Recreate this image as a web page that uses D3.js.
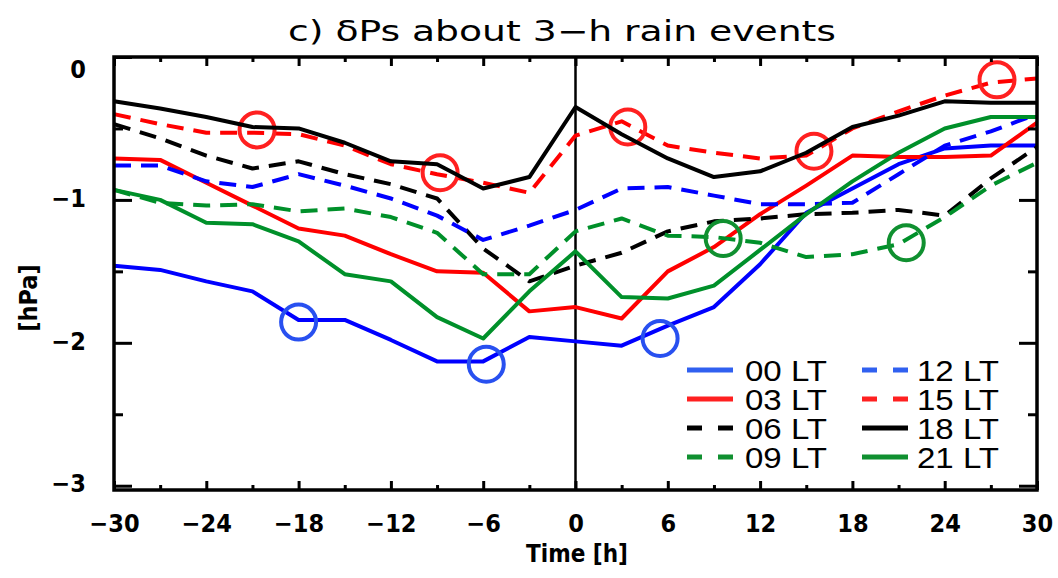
<!DOCTYPE html>
<html><head><meta charset="utf-8">
<script src="https://cdn.jsdelivr.net/npm/d3@7/dist/d3.min.js"></script>
<style>body{margin:0;background:#fff}svg{display:block}</style>
</head><body><svg id="c" width="1058" height="578"></svg>
<script>
// ---- data ----
const hours = [-30,-27,-24,-21,-18,-15,-12,-9,-6,-3,0,3,6,9,12,15,18,21,24,27,30];
const lt00 = [-1.46,-1.49,-1.57,-1.64,-1.84,-1.84,-1.98,-2.13,-2.13,-1.96,-1.99,-2.02,-1.88,-1.75,-1.45,-1.09,-0.92,-0.75,-0.64,-0.62,-0.62];
const lt03 = [-0.71,-0.72,-0.88,-1.04,-1.20,-1.25,-1.38,-1.50,-1.51,-1.78,-1.75,-1.83,-1.50,-1.33,-1.10,-0.90,-0.69,-0.70,-0.70,-0.69,-0.46];
const lt06 = [-0.47,-0.57,-0.69,-0.78,-0.73,-0.82,-0.89,-0.99,-1.34,-1.57,-1.46,-1.37,-1.22,-1.15,-1.13,-1.10,-1.09,-1.07,-1.11,-0.85,-0.63];
const lt09 = [-0.93,-1.02,-1.04,-1.03,-1.08,-1.06,-1.12,-1.23,-1.52,-1.52,-1.22,-1.13,-1.25,-1.26,-1.30,-1.40,-1.38,-1.31,-1.12,-0.90,-0.74];
const lt12 = [-0.76,-0.76,-0.87,-0.91,-0.82,-0.90,-0.99,-1.11,-1.28,-1.18,-1.07,-0.92,-0.91,-0.97,-1.03,-1.03,-1.02,-0.82,-0.62,-0.52,-0.40];
const lt15 = [-0.40,-0.47,-0.53,-0.53,-0.54,-0.62,-0.75,-0.82,-0.88,-0.95,-0.55,-0.45,-0.62,-0.67,-0.71,-0.69,-0.50,-0.38,-0.27,-0.18,-0.15];
const lt18 = [-0.31,-0.36,-0.42,-0.49,-0.50,-0.60,-0.73,-0.75,-0.92,-0.84,-0.35,-0.54,-0.71,-0.84,-0.80,-0.67,-0.49,-0.41,-0.31,-0.32,-0.32];
const lt21 = [-0.93,-1.00,-1.16,-1.17,-1.29,-1.52,-1.57,-1.82,-1.97,-1.64,-1.36,-1.68,-1.69,-1.60,-1.35,-1.10,-0.87,-0.67,-0.50,-0.42,-0.42];

const circles00 = [[-18,-1.855],[-5.8,-2.15],[5.5,-1.97]];
const circles09 = [[9.6,-1.27],[21.5,-1.30]];
const circles15 = [[-20.7,-0.51],[-8.8,-0.81],[3.4,-0.49],[15.5,-0.66],[27.4,-0.16]];

const seriesNames = ["00 LT","03 LT","06 LT","09 LT","12 LT","15 LT","18 LT","21 LT"];
const seriesValues = [lt00,lt03,lt06,lt09,lt12,lt15,lt18,lt21];
const seriesCircles = [circles00,null,null,circles09,null,circles15,null,null];

const xMajorTicks = [-30,-24,-18,-12,-6,0,6,12,18,24,30];
const xMinorTicks = [-27,-21,-15,-9,-3,3,9,15,21,27];
const yMajorTicks = [0,-1,-2,-3];
const yMinorTicks = [-0.5,-1.5,-2.5];
const titleText = "c) \u03b4Ps about 3\u2212h rain events";
const xLabel = "Time [h]";
const yLabel = "[hPa]";

// ---- styles ----
const lineColors = ["#0000ff","#ff0000","#000000","#00902a","#0000ff","#ff0000","#000000","#00902a"];
const legendColors = ["#3060f0","#ff2020","#000000","#109030","#3060f0","#ff2020","#000000","#109030"];
const circleColors = ["#2850f0",null,null,"#109030",null,"#ff2020",null,null];
const dashed = [false,false,true,true,true,true,false,false];

const svg = d3.select("#c");
const x = d3.scaleLinear().domain([-30,30]).range([114,1037]);
const y = d3.scaleLinear().domain([-3.03,0]).range([490,57]);

// title
svg.append("text").attr("x",562).attr("y",41).attr("text-anchor","middle")
  .attr("font-family","DejaVu Sans Condensed, DejaVu Sans").attr("font-size",28)
  .attr("textLength",548).attr("lengthAdjust","spacingAndGlyphs")
  .text(titleText);

// zero line
svg.append("line").attr("x1",x(0)).attr("x2",x(0)).attr("y1",y(0)).attr("y2",y(-3.03))
  .attr("stroke","#000").attr("stroke-width",2.5);

// series
const line = d3.line().x((d,i)=>x(hours[i])).y(d=>y(d));
seriesValues.forEach((vals,k)=>{
  svg.append("path").datum(vals).attr("d",line).attr("fill","none")
    .attr("stroke",lineColors[k]).attr("stroke-width",4)
    .attr("stroke-linejoin","round")
    .attr("stroke-dasharray",dashed[k]?"17,10":null);
  if(seriesCircles[k]){
    svg.selectAll(null).data(seriesCircles[k]).enter().append("circle")
      .attr("cx",d=>x(d[0])).attr("cy",d=>y(d[1])).attr("r",17.5)
      .attr("fill","none").attr("stroke",circleColors[k]).attr("stroke-width",4);
  }
});

// frame
svg.append("rect").attr("x",x(-30)).attr("y",y(0)).attr("width",x(30)-x(-30)).attr("height",y(-3.03)-y(0))
  .attr("fill","none").attr("stroke","#000").attr("stroke-width",3.5);

const tickFont = "DejaVu Sans Condensed, DejaVu Sans";
function fmt(v){ return v<0 ? "\u2212"+Math.abs(v) : String(v); }

// x axes
const xb = svg.append("g").attr("transform",`translate(0,${y(-3.03)})`)
  .call(d3.axisBottom(x).tickValues(xMajorTicks).tickSize(-9).tickPadding(24).tickFormat(fmt));
svg.append("g").attr("transform",`translate(0,${y(-3.03)})`)
  .call(d3.axisBottom(x).tickValues(xMinorTicks).tickSize(-5).tickFormat(""));
svg.append("g").attr("transform",`translate(0,${y(0)})`)
  .call(d3.axisTop(x).tickValues(xMajorTicks).tickSize(-9).tickFormat(""));
svg.append("g").attr("transform",`translate(0,${y(0)})`)
  .call(d3.axisTop(x).tickValues(xMinorTicks).tickSize(-5).tickFormat(""));
// y axes
const yl = svg.append("g").attr("transform",`translate(${x(-30)},0)`)
  .call(d3.axisLeft(y).tickValues(yMajorTicks).tickSize(-18).tickPadding(28).tickFormat(fmt));
svg.append("g").attr("transform",`translate(${x(-30)},0)`)
  .call(d3.axisLeft(y).tickValues(yMinorTicks).tickSize(-9).tickFormat(""));
svg.append("g").attr("transform",`translate(${x(30)},0)`)
  .call(d3.axisRight(y).tickValues(yMajorTicks).tickSize(-18).tickFormat(""));
svg.append("g").attr("transform",`translate(${x(30)},0)`)
  .call(d3.axisRight(y).tickValues(yMinorTicks).tickSize(-9).tickFormat(""));

svg.selectAll(".domain").remove();
svg.selectAll(".tick line").attr("stroke","#000").attr("stroke-width",3);
svg.selectAll(".tick text").attr("font-family",tickFont).attr("font-weight","bold")
  .attr("font-size",25).attr("fill","#000");
xb.selectAll(".tick text").attr("dy","0.71em");
yl.selectAll(".tick text").attr("dy", d=> d===0 ? "0.8em" : "0.25em");

// axis titles
svg.append("text").attr("x",577).attr("y",562).attr("text-anchor","middle")
  .attr("font-family",tickFont).attr("font-weight","bold").attr("font-size",24)
  .text(xLabel);
svg.append("text").attr("transform","translate(37,298) rotate(-90)").attr("text-anchor","middle")
  .attr("font-family",tickFont).attr("font-weight","bold").attr("font-size",25)
  .text(yLabel);

// legend
const legCols = [[687,745],[862,917]];
const legRows = [370,399,428,457];
seriesNames.forEach((name,k)=>{
  const col = legCols[Math.floor(k/4)], row = legRows[k%4];
  svg.append("line").attr("x1",col[0]).attr("x2",col[0]+46).attr("y1",row).attr("y2",row)
    .attr("stroke",legendColors[k]).attr("stroke-width",5)
    .attr("stroke-dasharray",dashed[k]?"15,16":null);
  svg.append("text").attr("x",col[1]).attr("y",row+11)
    .attr("font-family","Liberation Sans, Arial").attr("font-size",29)
    .attr("textLength",82).attr("lengthAdjust","spacingAndGlyphs").text(name);
});
</script></body></html>
